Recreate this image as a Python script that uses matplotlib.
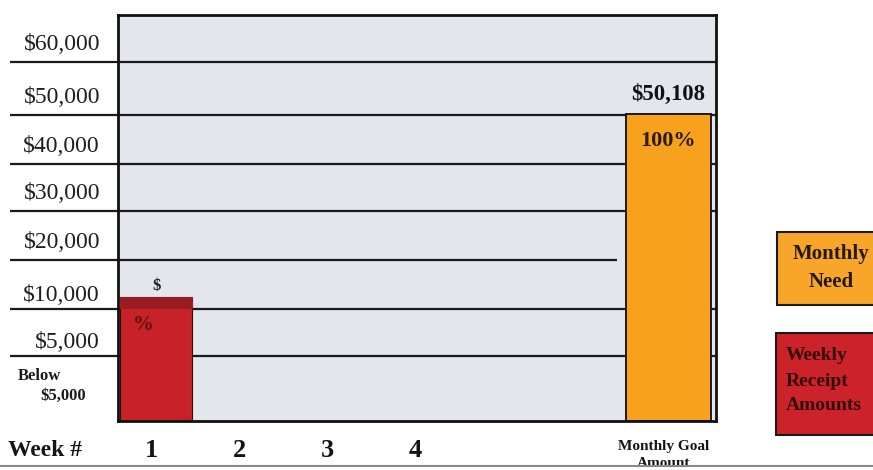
import numpy as np
import matplotlib
matplotlib.use("Agg")
import matplotlib.pyplot as plt
from matplotlib.patches import Rectangle
from matplotlib.scale import FuncScale

# ---------------- data ----------------
week_labels = ["1", "2", "3", "4"]
weekly_receipts = [12400, 0, 0, 0]          # week 1 bar (with darker cap above $10,000)
receipt_body_top = 10000                    # where the darker cap begins
goal_label = "Monthly Goal\nAmount"
goal_value = 50108
goal_text = "$50,108"
goal_pct = "100%"
tick_values = [5000, 10000, 20000, 30000, 40000, 50000, 60000]
tick_labels = ["$5,000", "$10,000", "$20,000", "$30,000", "$40,000", "$50,000", "$60,000"]

# ---------------- non-linear (banded) y scale ----------------
scale_vals = np.array([0, 5000, 10000, 20000, 30000, 40000, 50000, 60000, 70000], float)
scale_pos = np.array([0, 65, 112, 161, 210, 257, 306, 359, 412], float)

def fwd(v):
    return np.interp(v, scale_vals, scale_pos)

def inv(p):
    return np.interp(p, scale_pos, scale_vals)

plt.rcParams['font.family'] = ['Liberation Serif', 'DejaVu Serif']

fig = plt.figure(figsize=(8.73, 4.70), dpi=100)
W, H = 873, 470
ax = fig.add_axes([118 / W, (H - 421) / H, (716 - 118) / W, (421 - 15) / H])
ax.set_yscale(FuncScale(ax, (fwd, inv)))
ax.set_facecolor("#e3e6ec")

# x layout
week_pos = np.arange(len(week_labels)) * 1.0
goal_pos = 5.85
xmin, xmax = -0.375, 6.42
ax.set_xlim(xmin, xmax)
ax.set_ylim(0, 68870)

# horizontal rules (extend to the left, outside the box)
line_left = -1.6
for v in tick_values:
    right = 5.30 if v == 20000 else xmax
    ax.hlines(v, line_left, right, color="#1a1a1a", lw=1.6, clip_on=False, zorder=1)

# week bars
red_x = week_pos + 0.06
ax.bar(red_x, weekly_receipts, width=0.82, color="#c62228", edgecolor="#2a1010",
       linewidth=0.8, zorder=3)
cap_h = [max(r - receipt_body_top, 0) for r in weekly_receipts]
ax.bar(red_x, cap_h, bottom=receipt_body_top, width=0.83, color="#981c22",
       linewidth=0, zorder=4)

# goal bar
ax.bar(goal_pos + 0.03, goal_value, width=0.97, color="#f8a11d", edgecolor="#1a1a1a",
       linewidth=1.4, zorder=3)

# annotations
ax.annotate(goal_text, xy=(goal_pos + 0.03, goal_value), xytext=(0, 9),
            textcoords="offset pixels", ha="center", va="bottom",
            fontsize=16.5, fontweight="bold", color="#111111", zorder=6)
ax.annotate(goal_pct, xy=(goal_pos + 0.03, goal_value), xytext=(0, -17),
            textcoords="offset pixels", ha="center", va="top",
            fontsize=16, fontweight="bold", color="#2a1a0a", zorder=6)
ax.annotate("$", xy=(red_x[0], weekly_receipts[0]), xytext=(0, 3),
            textcoords="offset pixels", ha="center", va="bottom",
            fontsize=12, fontweight="bold", color="#222222", zorder=6)
ax.annotate("%", xy=(red_x[0], receipt_body_top), xytext=(-13, -6),
            textcoords="offset pixels", ha="center", va="top",
            fontsize=15, fontweight="bold", color="#5a1212", zorder=6)

# y labels, sitting above each rule
ax.set_yticks([])
for v, lab in zip(tick_values, tick_labels):
    dy = 3 if v <= 10000 else 7
    ax.annotate(lab, xy=(0, v), xycoords=("axes fraction", "data"),
                xytext=(-18, dy), textcoords="offset pixels", ha="right", va="bottom",
                fontsize=17, color="#1e1e1e", annotation_clip=False)

# x labels
ax.set_xticks(list(week_pos), week_labels)
ax.tick_params(axis="x", length=0, pad=13)
for lbl in ax.get_xticklabels():
    lbl.set_fontsize(19)
    lbl.set_fontweight("bold")
    lbl.set_color("#141414")
ax.annotate(goal_label, xy=(goal_pos - 0.02, 0), xycoords=("data", "axes fraction"),
            xytext=(0, -19), textcoords="offset pixels", ha="center", va="top",
            fontsize=11, fontweight="bold", linespacing=1.4, color="#141414",
            annotation_clip=False)

for s in ax.spines.values():
    s.set_linewidth(2.0)
    s.set_color("#111111")
    s.set_zorder(5)

# left-side text
fig.text(18 / W, 1 - 376 / H, "Below", fontsize=12, fontweight="bold",
         ha="left", va="center", color="#1a1a1a")
fig.text(40 / W, 1 - 396 / H, "$5,000", fontsize=12, fontweight="bold",
         ha="left", va="center", color="#1a1a1a")
fig.text(8 / W, 1 - 451 / H, "Week #", fontsize=17, fontweight="bold",
         ha="left", va="center", color="#141414")

# legend boxes
fig.patches.append(Rectangle((777 / W, 1 - 305 / H), 110 / W, 73 / H,
                             transform=fig.transFigure, facecolor="#f8a62a",
                             edgecolor="#1a1a1a", linewidth=1.5))
fig.text(831 / W, 1 - 254 / H, "Monthly", fontsize=15, fontweight="bold",
         ha="center", va="center", color="#241808")
fig.text(831 / W, 1 - 282 / H, "Need", fontsize=15, fontweight="bold",
         ha="center", va="center", color="#241808")
fig.patches.append(Rectangle((776 / W, 1 - 435 / H), 110 / W, 102 / H,
                             transform=fig.transFigure, facecolor="#cc2229",
                             edgecolor="#1a1a1a", linewidth=1.5))
for txt, yy in [("Weekly", 355), ("Receipt", 381), ("Amounts", 406)]:
    fig.text(786 / W, 1 - yy / H, txt, fontsize=14, fontweight="bold",
             ha="left", va="center", color="#330a0a")

# page rule at the bottom
fig.add_artist(plt.Line2D([0, 1], [1 - 466 / H, 1 - 466 / H], transform=fig.transFigure,
                          color="#8a8a8a", lw=1.5))

fig.savefig("out.png", dpi=100, facecolor="white")
